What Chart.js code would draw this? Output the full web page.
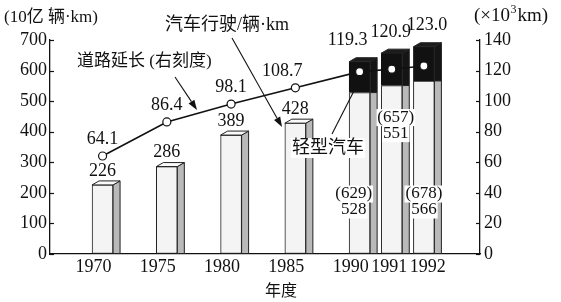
<!DOCTYPE html>
<html>
<head>
<meta charset="utf-8">
<script src="https://cdn.jsdelivr.net/npm/chart.js@4.4.0/dist/chart.umd.min.js"></script>
<style>
    html, body { margin: 0; padding: 0; background: #fff; }
    #wrap { width: 561px; height: 302px; }
</style>
</head>
<body>
<div id="wrap"><canvas id="roadChart"></canvas></div>
<script>
// values
const years = ['1970', '1975', '1980', '1985', '1990', '1991', '1992'];
const carKm = [226, 286, 389, 428, 528, 551, 566];                 // 汽车行驶 (10亿 辆·km)
const withLightKm = [null, null, null, null, 629, 657, 678];        // 含轻型汽车
const roadLength = [64.1, 86.4, 98.1, 108.7, 119.3, 120.9, 123.0];  // 道路延长 (×10³km)
const leftTicks = [0, 100, 200, 300, 400, 500, 600, 700];
const rightTicks = [0, 20, 40, 60, 80, 100, 120, 140];

// the year axis is broken: 5-year steps up to 1990, then one year per step
function slotOf(year) {
    const y = parseInt(year, 10);
    return y <= 1990 ? (y - 1970) / 2.5 : 8 + (y - 1990);
}
const BAR_SHIFT = 0.28;   // bar front sits just right of its year tick
const DX = 7, DY = 4;     // depth of the fake 3d side
const NUM_FONT = "'Liberation Serif', 'DejaVu Serif', serif";
const CJK_FONT = "'Liberation Serif', 'Noto Sans CJK SC', serif";

// small per-label nudges so crowded labels sit like the original
const tickNudge = { '1991': 0.2, '1992': 0.4 };
const lineLabelNudge = { '1985': -13, '1990': -12, '1991': -1, '1992': 3 };
const innerLabelSpot = { '1990': [170, -6], '1991': [420, 4], '1992': [170, 0] };

const carData = years.map((y, i) => ({ x: slotOf(y) + BAR_SHIFT, y: carKm[i] }));
const lightData = years.map((y, i) => ({
    x: slotOf(y) + BAR_SHIFT,
    y: withLightKm[i] == null ? null : withLightKm[i] - carKm[i]
}));
const roadData = years.map((y, i) => ({ x: slotOf(y) + BAR_SHIFT, y: roadLength[i] }));

function text(ctx, str, x, y, size, align, family) {
    ctx.font = size + 'px ' + (family || NUM_FONT);
    ctx.textAlign = align || 'center';
    ctx.textBaseline = 'middle';
    ctx.fillStyle = '#111';
    ctx.fillText(str, x, y);
}

function whiteBox(ctx, str, x, y, size, family) {
    ctx.font = size + 'px ' + (family || NUM_FONT);
    const w = ctx.measureText(str).width;
    ctx.fillStyle = '#fff';
    ctx.fillRect(x - w / 2 - 1, y - size / 2, w + 2, size);
}

function arrow(ctx, x1, y1, x2, y2) {
    const a = Math.atan2(y2 - y1, x2 - x1);
    const len = 10, half = 3.5;
    ctx.save();
    ctx.strokeStyle = '#111';
    ctx.fillStyle = '#111';
    ctx.lineWidth = 1.1;
    ctx.beginPath();
    ctx.moveTo(x1, y1);
    ctx.lineTo(x2 - Math.cos(a) * len, y2 - Math.sin(a) * len);
    ctx.stroke();
    ctx.beginPath();
    ctx.moveTo(x2, y2);
    ctx.lineTo(x2 - Math.cos(a) * len - Math.sin(a) * half, y2 - Math.sin(a) * len + Math.cos(a) * half);
    ctx.lineTo(x2 - Math.cos(a) * len + Math.sin(a) * half, y2 - Math.sin(a) * len - Math.cos(a) * half);
    ctx.closePath();
    ctx.fill();
    ctx.restore();
}

// draws the side and top faces of each bar
const box3d = {
    id: 'box3d',
    afterDatasetDraw(chart, args) {
        const ds = chart.data.datasets[args.index];
        if (!ds.face) return;
        const ctx = chart.ctx;
        args.meta.data.forEach((bar, i) => {
            if (ds.data[i].y == null) return;
            const p = bar.getProps(['x', 'y', 'base', 'width'], true);
            const l = p.x - p.width / 2, r = p.x + p.width / 2;
            const onTop = ds.face.isTop(i);
            const lift = onTop ? DY : 0;
            ctx.save();
            ctx.lineWidth = 1;
            ctx.strokeStyle = '#222';
            ctx.fillStyle = ds.face.side;
            ctx.beginPath();
            ctx.moveTo(r, p.y);
            ctx.lineTo(r + DX, p.y - lift);
            ctx.lineTo(r + DX, p.base);
            ctx.lineTo(r, p.base);
            ctx.closePath();
            ctx.fill();
            ctx.stroke();
            if (onTop) {
                ctx.fillStyle = ds.face.top;
                ctx.beginPath();
                ctx.moveTo(l, p.y);
                ctx.lineTo(l + DX, p.y - DY);
                ctx.lineTo(r + DX, p.y - DY);
                ctx.lineTo(r, p.y);
                ctx.closePath();
                ctx.fill();
                ctx.stroke();
            }
            ctx.restore();
        });
    }
};

// inward tick marks on both value axes
const innerTicks = {
    id: 'innerTicks',
    afterDraw(chart) {
        const ctx = chart.ctx;
        const { left, right } = chart.chartArea;
        ctx.save();
        ctx.strokeStyle = '#111';
        ctx.lineWidth = 1.2;
        leftTicks.forEach(v => {
            const py = Math.round(chart.scales.y.getPixelForValue(v)) + 0.5;
            ctx.beginPath(); ctx.moveTo(left, py); ctx.lineTo(left + 4, py); ctx.stroke();
        });
        rightTicks.forEach(v => {
            const py = Math.round(chart.scales.y2.getPixelForValue(v)) + 0.5;
            ctx.beginPath(); ctx.moveTo(right, py); ctx.lineTo(right - 4, py); ctx.stroke();
        });
        ctx.restore();
    }
};

// value labels, titles and the call-out arrows
const notes = {
    id: 'notes',
    afterDraw(chart) {
        const ctx = chart.ctx;
        const yL = chart.scales.y, yR = chart.scales.y2, xs = chart.scales.x;
        ctx.save();

        years.forEach((yr, i) => {
            const cx = xs.getPixelForValue(slotOf(yr) + BAR_SHIFT);
            if (withLightKm[i] == null) {
                // bar value above the bar, road value above its point
                text(ctx, String(carKm[i]), cx, yL.getPixelForValue(carKm[i]) - 14, 18);
                text(ctx, roadLength[i].toFixed(1), cx + (lineLabelNudge[yr] || 0),
                    yR.getPixelForValue(roadLength[i]) - 17, 18);
            } else {
                text(ctx, roadLength[i].toFixed(1), cx + (lineLabelNudge[yr] || 0),
                    yL.getPixelForValue(withLightKm[i]) - 21, 18);
                const spot = innerLabelSpot[yr];
                const ly = yL.getPixelForValue(spot[0]);
                const lx = cx + spot[1];
                const top = '(' + withLightKm[i] + ')';
                whiteBox(ctx, top, lx, ly - 8, 17);
                whiteBox(ctx, String(carKm[i]), lx, ly + 8, 17);
                text(ctx, top, lx, ly - 8, 17);
                text(ctx, String(carKm[i]), lx, ly + 8, 17);
            }
        });

        // axis titles
        text(ctx, '(10亿 辆·km)', 4, 18, 17, 'left', CJK_FONT);
        ctx.font = '19px ' + NUM_FONT;
        let tx = 474;
        text(ctx, '(×10', tx, 16, 19, 'left');
        tx += ctx.measureText('(×10').width;
        text(ctx, '3', tx + 0.5, 10, 12, 'left');
        ctx.font = '12px ' + NUM_FONT;
        tx += ctx.measureText('3').width + 1.5;
        text(ctx, 'km)', tx, 16, 19, 'left');
        text(ctx, '年度', 281, 292, 16, 'center', CJK_FONT);

        // call-outs
        text(ctx, '汽车行驶/辆·km', 165, 25, 18, 'left', CJK_FONT);
        arrow(ctx, 232, 38, 282, 127);
        text(ctx, '道路延长 (右刻度)', 77, 62, 17, 'left', CJK_FONT);
        arrow(ctx, 175, 77, 197, 110);
        ctx.font = '18px ' + CJK_FONT;
        const lw = ctx.measureText('轻型汽车').width;
        ctx.fillStyle = '#fff';
        ctx.fillRect(291, 138, lw + 2, 20);
        text(ctx, '轻型汽车', 292, 148, 18, 'left', CJK_FONT);
        arrow(ctx, 332, 134, 361, 77);

        ctx.restore();
    }
};

const ctx = document.getElementById('roadChart').getContext('2d');
const roadChart = new Chart(ctx, {
    type: 'bar',
    data: {
        datasets: [
            {
                type: 'line',
                label: '道路延长',
                yAxisID: 'y2',
                data: roadData,
                borderColor: '#111',
                borderWidth: 1.6,
                tension: 0,
                pointRadius: 4,
                pointBackgroundColor: '#fff',
                pointBorderColor: '#111',
                pointBorderWidth: 1.2,
                order: 0
            },
            {
                // lower part of the stack: passenger cars
                label: '汽车行驶',
                yAxisID: 'y',
                stack: 'km',
                data: carData,
                backgroundColor: '#f4f4f4',
                borderColor: '#222',
                borderWidth: 1,
                borderSkipped: false,
                barThickness: 21,
                order: 1,
                face: { side: '#b9b9b9', top: '#fafafa', isTop: i => withLightKm[i] == null }
            },
            {
                // black cap: light vehicles
                label: '轻型汽车',
                yAxisID: 'y',
                stack: 'km',
                data: lightData,
                backgroundColor: '#111',
                borderColor: '#111',
                borderWidth: 1,
                barThickness: 21,
                order: 2,
                face: { side: '#151515', top: '#1c1c1c', isTop: () => true }
            }
        ]
    },
    options: {
        responsive: true,
        maintainAspectRatio: false,
        animation: false,
        events: [],
        layout: { padding: { top: 40, left: 0, right: 0, bottom: 0 } },
        plugins: { legend: { display: false }, tooltip: { enabled: false } },
        scales: {
            x: {
                type: 'linear',
                min: -0.4,
                max: 11.07,
                afterBuildTicks: scale => {
                    scale.ticks = years.map(y => ({ value: slotOf(y) + (tickNudge[y] || 0) }));
                },
                afterFit: scale => { scale.height = 48; },
                ticks: {
                    autoSkip: false,
                    maxRotation: 0,
                    padding: 2,
                    color: '#111',
                    font: { family: NUM_FONT, size: 18 },
                    callback: (value, index) => years[index]
                },
                grid: { drawOnChartArea: false, drawTicks: false },
                border: { color: '#111', width: 1.3 }
            },
            y: {
                position: 'left',
                stacked: true,
                min: 0,
                max: 700,
                afterBuildTicks: scale => { scale.ticks = leftTicks.map(v => ({ value: v })); },
                afterFit: scale => { scale.width = 50; },
                ticks: { padding: 3, color: '#111', font: { family: NUM_FONT, size: 18 } },
                grid: { drawOnChartArea: false, drawTicks: false },
                border: { color: '#111', width: 1.3 }
            },
            y2: {
                position: 'right',
                min: 0,
                max: 140,
                afterBuildTicks: scale => { scale.ticks = rightTicks.map(v => ({ value: v })); },
                afterFit: scale => { scale.width = 81; },
                ticks: { padding: 4, color: '#111', font: { family: NUM_FONT, size: 18 } },
                grid: { drawOnChartArea: false, drawTicks: false },
                border: { color: '#111', width: 1.3 }
            }
        }
    },
    plugins: [box3d, innerTicks, notes]
});
</script>
</body>
</html>
